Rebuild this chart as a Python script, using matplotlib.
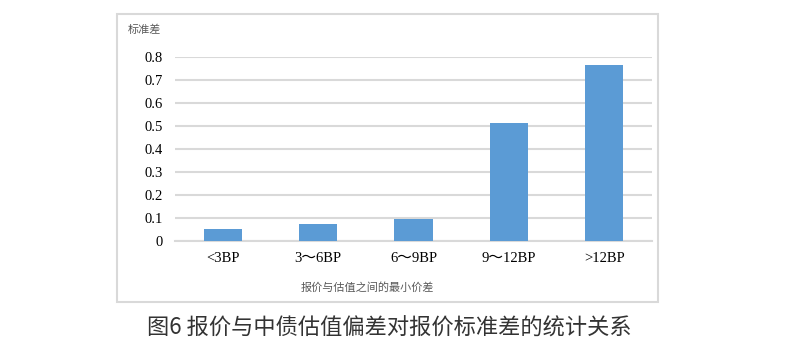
import matplotlib.pyplot as plt
from matplotlib.patches import Rectangle

plt.rcParams['font.family'] = ['Noto Sans CJK SC', 'DejaVu Sans']

categories = ['<3BP', '3～6BP', '6～9BP', '9～12BP', '>12BP']
std_values = [0.054, 0.072, 0.094, 0.513, 0.765]
y_ticks = [0, 0.1, 0.2, 0.3, 0.4, 0.5, 0.6, 0.7, 0.8]
y_ticklabels = ['0', '0.1', '0.2', '0.3', '0.4', '0.5', '0.6', '0.7', '0.8']

W, H = 790, 348
fig = plt.figure(figsize=(W / 100, H / 100), dpi=100)

# outer chart frame
fig.patches.append(Rectangle((117 / W, 1 - 302 / H), 541 / W, 288 / H,
                             transform=fig.transFigure, fill=False,
                             edgecolor='#d9d9d9', linewidth=1.5))

ax = fig.add_axes([175 / W, 1 - 241 / H, 477 / W, 184 / H])
x = range(len(categories))
ax.bar(x, std_values, width=0.4, color='#5b9bd5', zorder=3)
ax.set_xlim(-0.5, len(categories) - 0.5)
ax.set_ylim(0, 0.8)
serif = ['Liberation Serif', 'Noto Sans CJK SC']
ax.set_yticks(y_ticks)
ax.set_yticklabels(y_ticklabels, family=serif, fontsize=10.5)
ax.set_xticks(list(x))
ax.set_xticklabels(categories, family=serif, fontsize=10.5)
ax.grid(axis='y', color='#d9d9d9', linewidth=1.5, zorder=0)
ax.tick_params(length=0, pad=9)
ax.tick_params(axis='x', pad=8)
for s in ['top', 'right', 'left']:
    ax.spines[s].set_visible(False)
ax.spines['bottom'].set_color('#d9d9d9')
ax.spines['bottom'].set_linewidth(1.5)

fig.text(128 / W, 1 - 30 / H, '标准差', fontsize=8, color='#595959', va='center', ha='left')
fig.text(367 / W, 1 - 288 / H, '报价与估值之间的最小价差', fontsize=8, color='#595959',
         va='center', ha='center')
fig.text(389 / W, 1 - 328 / H, '图6 报价与中债估值偏差对报价标准差的统计关系', fontsize=16,
         color='#333333', va='center', ha='center')

fig.savefig('out.png', dpi=100)
